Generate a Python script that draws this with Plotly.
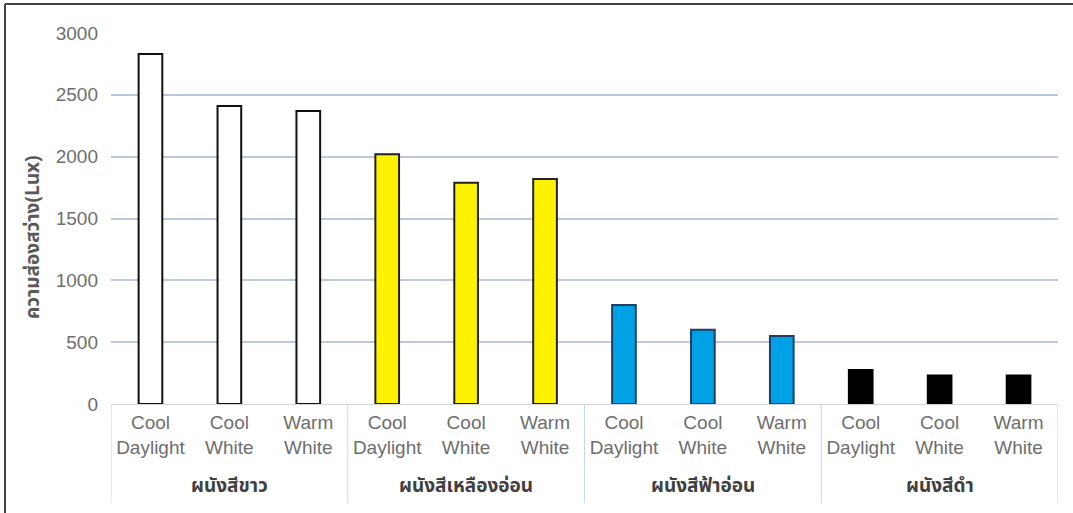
import plotly.graph_objects as go

# Wall colours (outer groups) and lamp types (inner categories)
walls = ["ผนังสีขาว", "ผนังสีเหลืองอ่อน", "ผนังสีฟ้าอ่อน", "ผนังสีดำ"]
lamps = ["Cool<br>Daylight", "Cool<br>White", "Warm<br>White"]

# Illuminance (Lux) per wall, in lamp order
lux_white = [2830, 2410, 2370]
lux_yellow = [2020, 1790, 1820]
lux_blue = [800, 600, 550]
lux_black = [275, 230, 230]

fill_colors = ["#FFFFFF", "#FFF200", "#00A2E6", "#000000"]
edge_colors = ["#111111", "#222222", "#1F3F66", "#000000"]

thai_font = "Noto Sans Thai, Tahoma, Liberation Sans, DejaVu Sans, sans-serif"
tick_font = "Liberation Sans, Arial, sans-serif"

# Flatten groups into one run of slots along the x axis
n_lamps = len(lamps)
positions, tick_text, values, fills, edges = [], [], [], [], []
for g, (vals, fc, ec) in enumerate(zip([lux_white, lux_yellow, lux_blue, lux_black],
                                       fill_colors, edge_colors)):
    for i, v in enumerate(vals):
        positions.append(g * n_lamps + i)
        tick_text.append(lamps[i])
        values.append(v)
        fills.append(fc)
        edges.append(ec)

fig = go.Figure(go.Bar(
    x=positions,
    y=values,
    marker=dict(color=fills, line=dict(color=edges, width=2)),
    width=0.3,
))

plot_h = 513 - 33 - 109  # plot area height in px, for paper-space offsets

annotations = []
shapes = []
for g, wall in enumerate(walls):
    center = g * n_lamps + (n_lamps - 1) / 2
    annotations.append(dict(
        x=center, xref="x", y=-(486 - 404) / plot_h, yref="paper",
        text="<b>" + wall + "</b>", showarrow=False,
        font=dict(family=thai_font, size=19, color="#404040"),
        xanchor="center", yanchor="middle",
    ))
# group dividers under the axis
for b in range(len(walls) + 1):
    xb = b * n_lamps - 0.5
    shapes.append(dict(
        type="line", xref="x", yref="paper",
        x0=xb, x1=xb, y0=0, y1=-(503 - 404) / plot_h,
        line=dict(color="#C5D6EE", width=1),
    ))

# y-axis title
annotations.append(dict(
    x=(33 - 111) / 947, xref="paper", y=(404 - 237) / plot_h, yref="paper",
    text="<b>ความส่องสว่าง(Lux)</b>", textangle=-90, showarrow=False,
    font=dict(family=thai_font, size=19, color="#595959"),
    xanchor="center", yanchor="middle",
))

# frame along the top and left edges of the chart
fx = (5 - 111) / 947
fy = (404 - 4) / plot_h
shapes += [
    dict(type="line", xref="paper", yref="paper", x0=fx, x1=fx, y0=-0.4, y1=fy,
         line=dict(color="#444444", width=2)),
    dict(type="line", xref="paper", yref="paper", x0=fx, x1=1.1, y0=fy, y1=fy,
         line=dict(color="#444444", width=2)),
]

fig.update_layout(
    width=1073, height=513,
    margin=dict(l=111, r=15, t=33, b=109),
    paper_bgcolor="white", plot_bgcolor="white",
    showlegend=False,
    font=dict(family=tick_font, color="#6E6E6E", size=19),
    xaxis=dict(
        range=[-0.5, len(positions) - 0.5],
        tickmode="array", tickvals=positions, ticktext=tick_text,
        showline=True, linecolor="#D0D8E4", linewidth=1,
        showgrid=False, zeroline=False,
        ticks="", ticklabelstandoff=1,
        tickfont=dict(family=tick_font, size=19, color="#6E6E6E"),
    ),
    yaxis=dict(
        range=[0, 3000], tick0=0, dtick=500,
        showgrid=True, gridcolor="#B9C8DC", gridwidth=1.5,
        zeroline=False, showline=False,
        ticks="", ticklabelstandoff=12,
        tickfont=dict(family=tick_font, size=19, color="#6E6E6E"),
    ),
    annotations=annotations,
    shapes=shapes,
)

fig.write_html("out.html")
